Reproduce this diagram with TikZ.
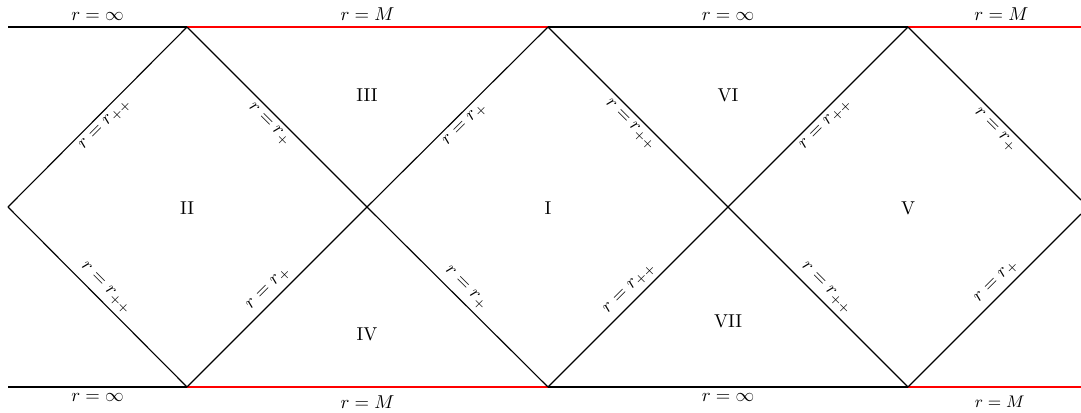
\documentclass[tikz,border=0pt]{standalone}
\begin{document}
\begin{tikzpicture}[x=0.536pt,y=-0.536pt,
  bline/.style={line width=0.6pt,black},
  rline/.style={line width=0.6pt,red},
  hlab/.style={text=black},
  dlab/.style={sloped,inner sep=2.5pt,text=black},
  region/.style={inner sep=0pt}]
\useasboundingbox (0,0) rectangle (1081,412);
% corners
\coordinate (L)  at (8,207);
\coordinate (T1) at (187,27);
\coordinate (B1) at (187,387);
\coordinate (X1) at (367,207);
\coordinate (T2) at (548,27);
\coordinate (B2) at (548,387);
\coordinate (X2) at (728,207);
\coordinate (T3) at (908,27);
\coordinate (B3) at (908,387);
\coordinate (TL) at (8,27);
\coordinate (BL) at (8,387);
\coordinate (TR) at (1081,27);
\coordinate (BR) at (1081,387);
\coordinate (RU) at (1081,200);
\coordinate (RD) at (1081,214);
% horizontal boundaries
\draw[bline] (TL) -- node[hlab,above] (l1) {$r=\infty$} (T1);
\draw[rline] (T1) -- node[hlab,above] (l2) {$r=M$} (T2);
\draw[bline] (T2) -- node[hlab,above] (l3) {$r=\infty$} (T3);
\draw[rline] (T3) -- node[hlab,above,pos=0.54] (l4) {$r=M$} (TR);
\draw[bline] (BL) -- node[hlab,below] (l5) {$r=\infty$} (B1);
\draw[rline] (B1) -- node[hlab,below,yshift=-1pt] (l6) {$r=M$} (B2);
\draw[bline] (B2) -- node[hlab,below] (l7) {$r=\infty$} (B3);
\draw[rline] (B3) -- node[hlab,below,pos=0.53,yshift=-1pt,font=\small] (l8) {$r=M$} (BR);
% diagonals
\draw[bline] (L) -- node[dlab,below] (d1) {$r=r_{++}$} (T1);
\draw[bline] (T1) -- node[dlab,below] (d2) {$r=r_{+}$} (X1);
\draw[bline] (L) -- node[dlab,above] (d3) {$r=r_{++}$} (B1);
\draw[bline] (B1) -- node[dlab,above] (d4) {$r=r_{+}$} (X1);
\draw[bline] (X1) -- node[dlab,below] (d5) {$r=r_{+}$} (T2);
\draw[bline] (T2) -- node[dlab,below] (d6) {$r=r_{++}$} (X2);
\draw[bline] (X1) -- node[dlab,above] (d7) {$r=r_{+}$} (B2);
\draw[bline] (B2) -- node[dlab,above] (d8) {$r=r_{++}$} (X2);
\draw[bline] (X2) -- node[dlab,below] (d9) {$r=r_{++}$} (T3);
\draw[bline] (T3) -- node[dlab,below,pos=0.55] (d10) {$r=r_{+}$} (RU);
\draw[bline] (X2) -- node[dlab,above] (d11) {$r=r_{++}$} (B3);
\draw[bline] (B3) -- node[dlab,above,pos=0.56] (d12) {$r=r_{+}$} (RD);
% regions
\node[region] (rIII) at (367,95) {III};
\node[region] (rVI) at (728,95) {VI};
\node[region] (rII) at (187,208) {II};
\node[region] (rI) at (548,208) {I};
\node[region] (rV) at (908,208) {V};
\node[region] (rIV) at (367,334) {IV};
\node[region] (rVII) at (728,321) {VII};
\end{tikzpicture}
\end{document}
